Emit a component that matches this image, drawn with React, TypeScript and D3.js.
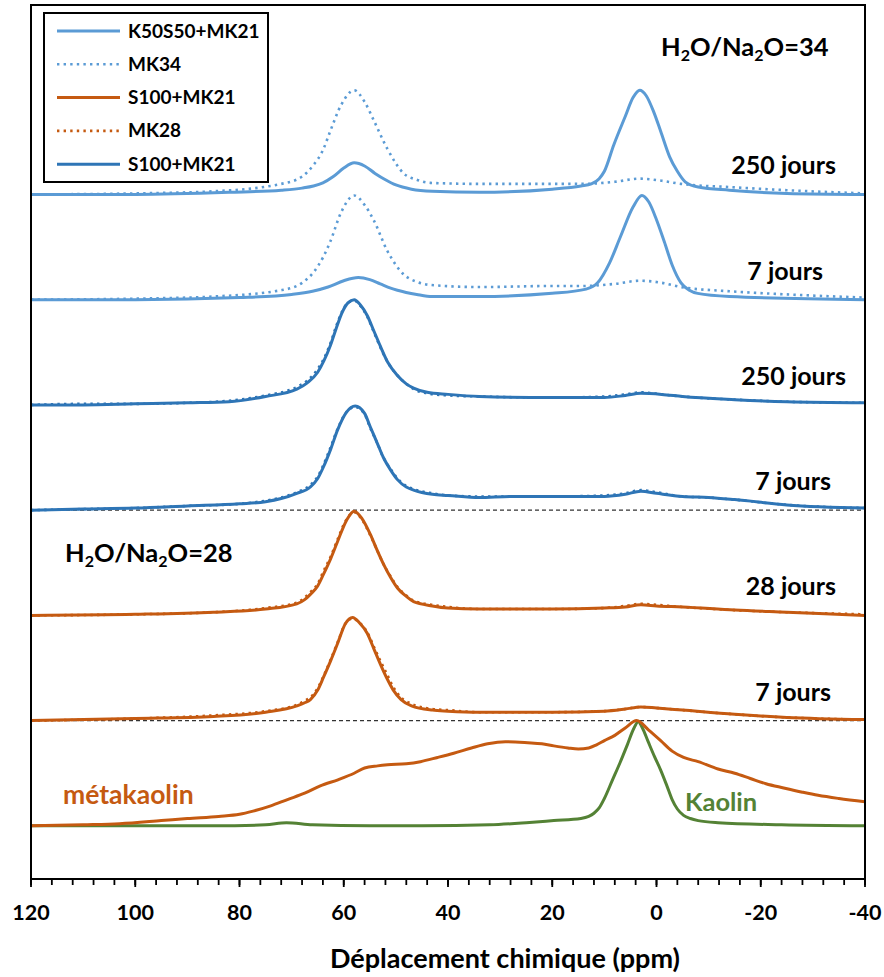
import React from "react";
import * as d3 from "d3";

type Pt = [number, number];

// ppm, normalized intensity (1 = one panel step)
const k50_250: Pt[] = [[120,0],[100,0],[82,0.02],[72,0.04],[68,0.06],[65.8,0.08],[64,0.11],[62,0.17],[60,0.25],[58,0.3],[56,0.27],[54,0.2],[52,0.14],[50,0.09],[47,0.05],[43,0.03],[34,0.02],[20,0.05],[14.5,0.08],[12.5,0.1],[11,0.15],[10,0.22],[8.2,0.47],[6,0.74],[4.5,0.92],[3.2,0.99],[2,0.94],[0.5,0.78],[-0.8,0.6],[-2.5,0.36],[-4,0.22],[-5.5,0.12],[-8,0.07],[-14,0.04],[-25,0.01],[-40,0]];
const mk34_250: Pt[] = [[120,0],[100,0.01],[85,0.03],[72,0.1],[68,0.17],[65.8,0.28],[64,0.42],[62.6,0.6],[60.5,0.85],[58,0.99],[56,0.88],[54.3,0.71],[51.6,0.43],[48.5,0.2],[46,0.14],[43.4,0.11],[34,0.1],[20,0.1],[14.5,0.1],[8,0.12],[3.2,0.15],[-1,0.13],[-4.7,0.1],[-14,0.07],[-25,0.04],[-40,0.01]];
const k50_7: Pt[] = [[120,0],[100,0],[80,0.02],[70,0.05],[66,0.08],[63,0.12],[60,0.18],[57.2,0.21],[55,0.19],[53,0.15],[51,0.11],[49.7,0.09],[46,0.05],[43,0.03],[34,0.03],[20,0.06],[13.5,0.1],[11.3,0.16],[9,0.35],[6.9,0.6],[4.5,0.88],[2.8,0.99],[1.5,0.93],[0,0.76],[-1.5,0.55],[-3,0.33],[-4.7,0.16],[-6.3,0.09],[-7.9,0.06],[-14,0.03],[-40,0]];
const mk34_7: Pt[] = [[120,0],[100,0.01],[85,0.03],[72,0.09],[68,0.16],[65.8,0.26],[64,0.4],[62.6,0.55],[60.5,0.83],[58,0.99],[56,0.9],[54.3,0.76],[51.6,0.46],[48.5,0.24],[46,0.17],[43.4,0.14],[34,0.12],[20,0.13],[14.5,0.13],[8,0.15],[3.2,0.18],[-1,0.16],[-4.7,0.12],[-14,0.08],[-25,0.05],[-40,0.02]];
const s100_250: Pt[] = [[120,0],[110,0],[100,0.01],[90,0.02],[82,0.03],[75,0.08],[69,0.15],[67,0.21],[65,0.31],[63.8,0.42],[62.6,0.56],[61.5,0.72],[60.3,0.88],[59.2,0.97],[58,1.0],[56.8,0.95],[55.5,0.85],[54.2,0.7],[53,0.56],[51.5,0.4],[49.7,0.28],[48,0.2],[46.6,0.16],[44,0.12],[40,0.1],[34,0.08],[20,0.07],[10,0.07],[6,0.09],[3,0.11],[-1,0.1],[-5,0.08],[-15,0.05],[-25,0.03],[-40,0.02]];
const s100_250d: Pt[] = [[120,0],[110,0.01],[100,0.01],[90,0.02],[82,0.04],[75,0.09],[69,0.17],[67,0.23],[65,0.34],[63.8,0.44],[62.6,0.58],[61.5,0.74],[60.3,0.89],[59.2,0.97],[58,0.99],[56.8,0.94],[55.5,0.84],[54.2,0.69],[53,0.55],[51.5,0.4],[49.7,0.28],[48,0.2],[46.6,0.15],[44,0.11],[40,0.09],[34,0.08],[20,0.07],[10,0.08],[6,0.1],[3,0.12],[-1,0.1],[-5,0.08],[-15,0.05],[-25,0.03],[-40,0.02]];
const s100_7: Pt[] = [[120,0],[110,0.01],[100,0.02],[90,0.04],[80,0.06],[75,0.08],[72,0.11],[69,0.16],[66.4,0.22],[65,0.3],[63.9,0.41],[62.5,0.58],[61.2,0.76],[59.5,0.93],[57.8,0.99],[56,0.92],[54.9,0.79],[53.6,0.64],[52.4,0.5],[51,0.38],[49.7,0.29],[48,0.22],[46.6,0.19],[43,0.15],[40,0.14],[34,0.12],[28,0.13],[20,0.13],[10,0.13],[6,0.15],[3,0.18],[0,0.16],[-5,0.13],[-10,0.12],[-15,0.1],[-25,0.05],[-40,0.02]];
const s100_7d: Pt[] = [[120,0],[110,0.01],[100,0.02],[90,0.04],[80,0.06],[75,0.09],[72,0.12],[69,0.17],[66.4,0.24],[65,0.32],[63.9,0.43],[62.5,0.6],[61.2,0.77],[59.5,0.93],[57.8,0.98],[56,0.91],[54.9,0.78],[53.6,0.64],[52.4,0.5],[51,0.39],[49.7,0.3],[48,0.23],[46.6,0.2],[43,0.16],[40,0.14],[34,0.13],[28,0.13],[20,0.13],[10,0.14],[6,0.16],[3,0.19],[0,0.17],[-5,0.13],[-10,0.12],[-15,0.1],[-25,0.05],[-40,0.02]];
const or_28: Pt[] = [[120,0],[100,0.01],[85,0.03],[75,0.06],[69,0.11],[67.5,0.15],[66.4,0.2],[65,0.28],[63.9,0.39],[62.5,0.54],[61.2,0.7],[59.5,0.9],[58,0.99],[56.5,0.92],[54.9,0.77],[53.6,0.62],[52.4,0.49],[51,0.36],[49.7,0.26],[48,0.18],[46.6,0.13],[43,0.09],[40,0.07],[34,0.06],[20,0.06],[10,0.07],[6,0.08],[3,0.1],[0,0.09],[-5,0.08],[-15,0.05],[-25,0.03],[-40,0]];
const mk28_28: Pt[] = [[120,0],[100,0.01],[85,0.03],[75,0.07],[69,0.12],[67.5,0.17],[66.4,0.22],[65,0.3],[63.9,0.42],[62.5,0.56],[61.2,0.72],[59.5,0.91],[58,0.98],[56.5,0.91],[54.9,0.76],[53.6,0.62],[52.4,0.49],[51,0.37],[49.7,0.27],[48,0.19],[46.6,0.14],[43,0.1],[40,0.08],[34,0.06],[20,0.06],[10,0.07],[6,0.09],[3,0.11],[0,0.1],[-5,0.08],[-15,0.05],[-25,0.03],[-40,0.01]];
const or_7: Pt[] = [[120,0],[100,0.02],[85,0.04],[75,0.08],[69,0.14],[67.5,0.17],[66.4,0.2],[65,0.29],[63.9,0.41],[62.5,0.57],[61.2,0.73],[59.7,0.92],[58.3,0.98],[57,0.93],[55.5,0.83],[54.2,0.68],[53,0.54],[51.7,0.4],[50.5,0.29],[49,0.2],[47,0.14],[43,0.1],[40,0.09],[34,0.08],[20,0.08],[10,0.09],[6,0.11],[3,0.13],[0,0.12],[-5,0.1],[-15,0.06],[-25,0.03],[-40,0.01]];
const mk28_7: Pt[] = [[120,0],[100,0.02],[85,0.05],[75,0.09],[69,0.15],[67.5,0.19],[66.4,0.22],[65,0.31],[63.9,0.42],[62.5,0.58],[61.2,0.74],[59.7,0.92],[58.3,0.97],[57,0.93],[55.5,0.84],[54.2,0.7],[53,0.57],[51.7,0.44],[50.5,0.32],[49,0.22],[47,0.16],[43,0.11],[40,0.1],[34,0.08],[20,0.08],[10,0.09],[6,0.11],[3,0.13],[0,0.12],[-5,0.1],[-15,0.06],[-25,0.03],[-40,0.01]];
const metakaolin: Pt[] = [[120,0],[110,0.01],[103,0.02],[95,0.05],[90,0.07],[84,0.09],[80,0.11],[77.4,0.14],[74,0.19],[70.8,0.25],[67.5,0.31],[64.5,0.38],[61,0.44],[58,0.5],[56,0.55],[53.5,0.57],[51.6,0.58],[48,0.59],[45.3,0.61],[42,0.65],[38.9,0.69],[35.5,0.74],[32.4,0.78],[29,0.8],[24.7,0.79],[22,0.78],[19.7,0.76],[17,0.74],[15,0.73],[13,0.74],[11.5,0.77],[10,0.81],[8,0.86],[6,0.93],[3.8,1.0],[1.5,0.91],[-0.8,0.81],[-3,0.71],[-5.2,0.65],[-8,0.61],[-11.8,0.54],[-15,0.5],[-18,0.45],[-21,0.4],[-24.4,0.36],[-28,0.32],[-31,0.29],[-35,0.26],[-40,0.23]];
const kaolin: Pt[] = [[120,0],[100,0],[85,0],[75,0.01],[71,0.03],[66,0.01],[55,0],[45,0],[32,0.01],[25,0.03],[19.7,0.05],[14.5,0.07],[13,0.09],[12,0.12],[11,0.17],[10,0.26],[8.5,0.43],[7,0.6],[5.6,0.77],[4.4,0.92],[3.5,0.99],[2.7,0.93],[1.6,0.8],[0.4,0.66],[-0.8,0.53],[-2,0.38],[-3,0.25],[-4,0.16],[-5.2,0.1],[-6.5,0.07],[-8,0.05],[-11.8,0.03],[-24,0.01],[-40,0]];

const LIGHT = "#5B9BD5";
const DARK = "#2E75B6";
const ORANGE = "#C55A11";
const GREEN = "#548235";

interface Series { data: Pt[]; offset: number; color: string; dotted: boolean }
const seriesList: Series[] = [
  { data: k50_250, offset: 6, color: LIGHT, dotted: false },
  { data: mk34_250, offset: 6, color: LIGHT, dotted: true },
  { data: k50_7, offset: 5, color: LIGHT, dotted: false },
  { data: mk34_7, offset: 5, color: LIGHT, dotted: true },
  { data: s100_250d, offset: 4, color: DARK, dotted: true },
  { data: s100_250, offset: 4, color: DARK, dotted: false },
  { data: s100_7d, offset: 3, color: DARK, dotted: true },
  { data: s100_7, offset: 3, color: DARK, dotted: false },
  { data: mk28_28, offset: 2, color: ORANGE, dotted: true },
  { data: or_28, offset: 2, color: ORANGE, dotted: false },
  { data: mk28_7, offset: 1, color: ORANGE, dotted: true },
  { data: or_7, offset: 1, color: ORANGE, dotted: false },
  { data: kaolin, offset: 0, color: GREEN, dotted: false },
  { data: metakaolin, offset: 0, color: ORANGE, dotted: false },
];

const legendNames = ["K50S50+MK21", "MK34", "S100+MK21", "MK28", "S100+MK21"];
const legendColors = [LIGHT, LIGHT, ORANGE, ORANGE, DARK];
const legendDotted = [false, true, false, true, false];

const dayLabels = ["250 jours", "7 jours", "250 jours", "7 jours", "28 jours", "7 jours"];
const dayOffsets = [6, 5, 4, 3, 2, 1];
const dayRight = [836, 823, 846, 831, 836, 831];
const dashedLevels = [3, 1];

const majorTicks = d3.range(120, -41, -20);
const minorTicks = d3.range(120, -41, -4);

const FONT = "Lato, 'Open Sans', sans-serif";

export default function App() {
  const W = 884, H = 977;
  const L = 31, R = 865, T = 5, B = 879;
  const x = d3.scaleLinear().domain([120, -40]).range([L, R]);
  const y = d3.scaleLinear().domain([-0.505, 7.8]).range([B, T]);

  const mkLine = (off: number) =>
    d3.line<Pt>().x(d => x(d[0])).y(d => y(off + d[1])).curve(d3.curveMonotoneX);

  return (
    <svg width={W} height={H} style={{ position: "absolute", left: 0, top: 0, background: "#fff" }} fontFamily={FONT}>
      <rect x={0} y={0} width={W} height={H} fill="#fff" />
      {dashedLevels.map((v, i) => (
        <line key={"d" + i} x1={L} x2={R} y1={y(v)} y2={y(v)} stroke="#333" strokeWidth={1.2} strokeDasharray="4 3" />
      ))}
      {seriesList.map((s, i) => (
        <path key={i} d={mkLine(s.offset)(s.data) || ""} fill="none" stroke={s.color}
          strokeWidth={s.dotted ? 2.6 : 3} strokeDasharray={s.dotted ? "2.4 4.2" : undefined}
          strokeLinejoin="round" />
      ))}
      {/* frame */}
      <rect x={L} y={T} width={R - L} height={B - T} fill="none" stroke="#000" strokeWidth={2} />
      {minorTicks.map(t => (
        <line key={"m" + t} x1={x(t)} x2={x(t)} y1={B} y2={B + 6} stroke="#000" strokeWidth={1.8} />
      ))}
      {majorTicks.map(t => (
        <line key={"M" + t} x1={x(t)} x2={x(t)} y1={B} y2={B + 8} stroke="#000" strokeWidth={1.8} />
      ))}
      {majorTicks.map(t => (
        <text key={"l" + t} x={x(t)} y={920} textAnchor="middle" fontSize={21.5} fontWeight="bold" fill="#000">{t}</text>
      ))}
      <text x={505} y={968} textAnchor="middle" fontSize={27} fontWeight="bold" fill="#000">Déplacement chimique (ppm)</text>

      {/* legend */}
      <rect x={44} y={13} width={224} height={169} fill="#fff" stroke="#000" strokeWidth={2} />
      {legendNames.map((n, i) => {
        const cy = 31 + i * 33.3;
        return (
          <g key={"lg" + i}>
            <line x1={57} x2={120} y1={cy} y2={cy} stroke={legendColors[i]} strokeWidth={legendDotted[i] ? 2.6 : 3}
              strokeDasharray={legendDotted[i] ? "2.4 4.2" : undefined} />
            <text x={128} y={cy + 6.5} fontSize={19} fontWeight="bold" fill="#000">{n}</text>
          </g>
        );
      })}

      {dayLabels.map((t, i) => (
        <text key={"day" + i} x={dayRight[i]} y={y(dayOffsets[i]) - 20} textAnchor="end" fontSize={25} fontWeight="bold" fill="#000">{t}</text>
      ))}

      <text x={661} y={56} fontSize={25.5} fontWeight="bold" fill="#000">
        H<tspan fontSize={16} dy={5}>2</tspan><tspan dy={-5}>O/Na</tspan><tspan fontSize={16} dy={5}>2</tspan><tspan dy={-5}>O=34</tspan>
      </text>
      <text x={65} y={562} fontSize={25.5} fontWeight="bold" fill="#000">
        H<tspan fontSize={16} dy={5}>2</tspan><tspan dy={-5}>O/Na</tspan><tspan fontSize={16} dy={5}>2</tspan><tspan dy={-5}>O=28</tspan>
      </text>
      <text x={63} y={804} fontSize={26.5} fontWeight="bold" fill={ORANGE}>métakaolin</text>
      <text x={685} y={811} fontSize={25.5} fontWeight="bold" fill={GREEN}>Kaolin</text>
    </svg>
  );
}
